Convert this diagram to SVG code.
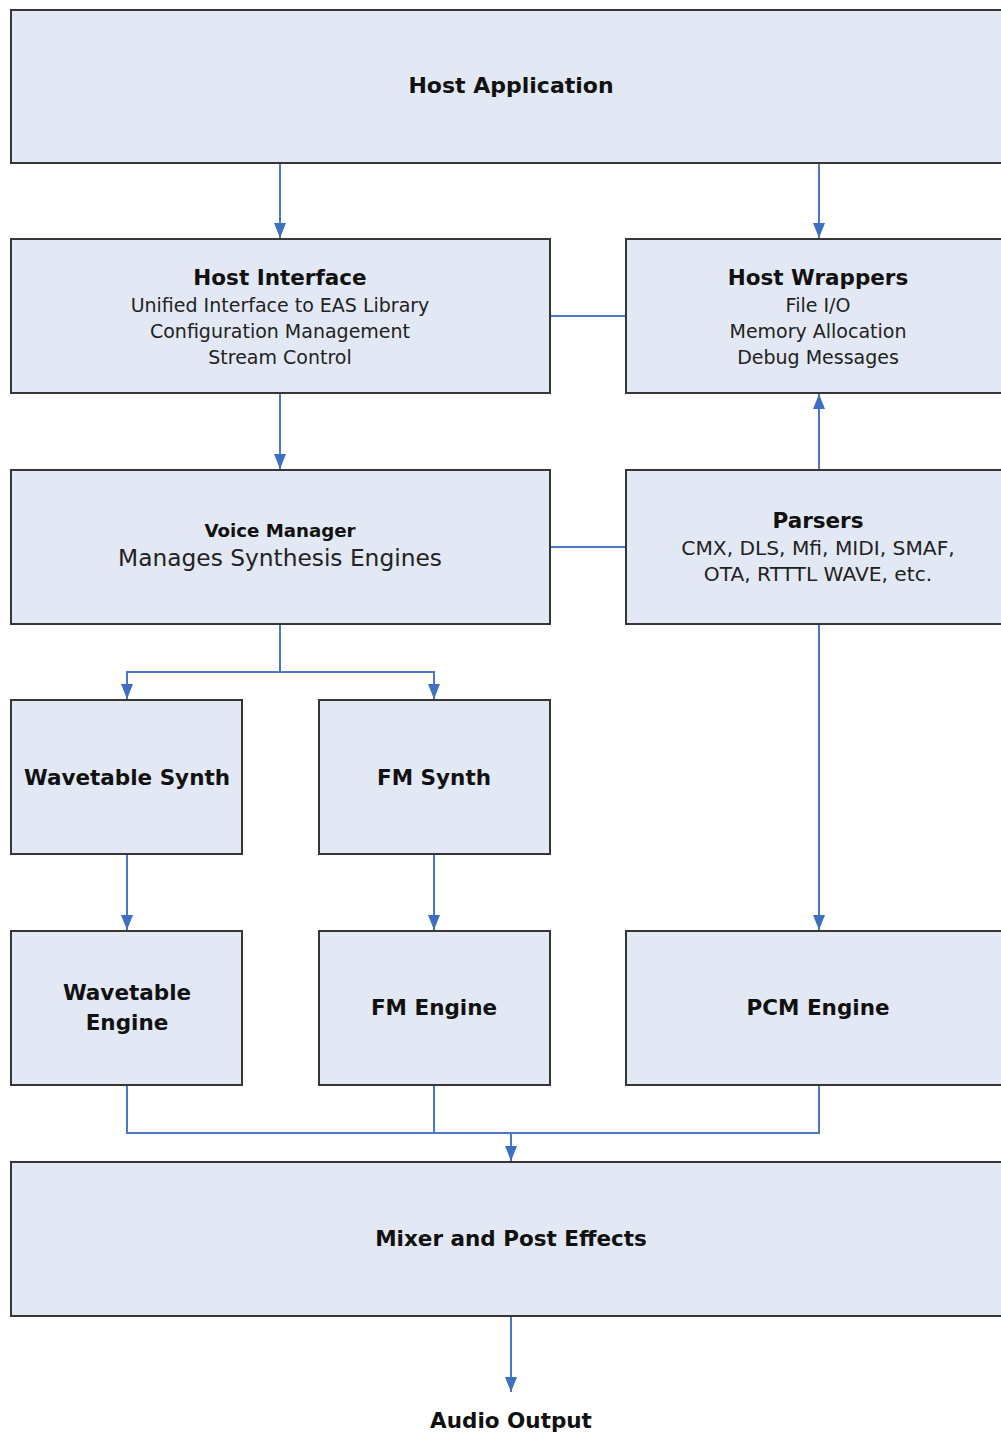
<svg xmlns="http://www.w3.org/2000/svg" width="1001" height="1434" viewBox="0 0 1001 1434">
<style>
.box{fill:#E3E9F4;stroke:#363636;stroke-width:2}
.t{font-family:"DejaVu Sans",Verdana,sans-serif;font-weight:bold;font-size:21.5px;fill:#111;text-anchor:middle}
.s{font-family:"DejaVu Sans",Verdana,sans-serif;font-size:19px;fill:#222;text-anchor:middle}
.c{fill:none;stroke:#4A78C6;stroke-width:2}
</style>
<defs>
<marker id="ah" viewBox="0 0 15 12" refX="15" refY="6" markerWidth="15" markerHeight="12" markerUnits="userSpaceOnUse" orient="auto">
<path d="M0,0 L15,6 L0,12 z" fill="#3F6FC2"/>
</marker>
</defs>
<g id="connectors">
<line class="c" x1="280" y1="163" x2="280" y2="238" marker-end="url(#ah)"/>
<line class="c" x1="819" y1="163" x2="819" y2="238" marker-end="url(#ah)"/>
<line class="c" x1="550" y1="316" x2="626" y2="316"/>
<line class="c" x1="280" y1="393" x2="280" y2="469" marker-end="url(#ah)"/>
<line class="c" x1="819" y1="470" x2="819" y2="394" marker-end="url(#ah)"/>
<line class="c" x1="550" y1="547" x2="626" y2="547"/>
<polyline class="c" points="280,624 280,672 127,672 127,699" marker-end="url(#ah)"/>
<polyline class="c" points="280,672 434,672 434,699" marker-end="url(#ah)"/>
<line class="c" x1="819" y1="624" x2="819" y2="930" marker-end="url(#ah)"/>
<line class="c" x1="127" y1="854" x2="127" y2="930" marker-end="url(#ah)"/>
<line class="c" x1="434" y1="854" x2="434" y2="930" marker-end="url(#ah)"/>
<polyline class="c" points="127,1085 127,1133 819,1133 819,1085"/>
<line class="c" x1="434" y1="1085" x2="434" y2="1133"/>
<line class="c" x1="511" y1="1133" x2="511" y2="1161" marker-end="url(#ah)"/>
<line class="c" x1="511" y1="1316" x2="511" y2="1392" marker-end="url(#ah)"/>
</g>
<g id="host-application">
<rect class="box" x="11" y="10" width="1000" height="153"/>
<text class="t" x="511" y="93" style="font-size:22px">Host Application</text>
</g>
<g id="host-interface">
<rect class="box" x="11" y="239" width="539" height="154"/>
<text class="t" x="280" y="285">Host Interface</text>
<text class="s" x="280" y="312">Unified Interface to EAS Library</text>
<text class="s" x="280" y="338">Configuration Management</text>
<text class="s" x="280" y="364">Stream Control</text>
</g>
<g id="host-wrappers">
<rect class="box" x="626" y="239" width="385" height="154"/>
<text class="t" x="818" y="285">Host Wrappers</text>
<text class="s" x="818" y="312">File I/O</text>
<text class="s" x="818" y="338">Memory Allocation</text>
<text class="s" x="818" y="364">Debug Messages</text>
</g>
<g id="voice-manager">
<rect class="box" x="11" y="470" width="539" height="154"/>
<text class="t" x="280" y="537" style="font-size:18.2px">Voice Manager</text>
<text class="s" x="280" y="566" style="font-size:23.3px">Manages Synthesis Engines</text>
</g>
<g id="parsers">
<rect class="box" x="626" y="470" width="385" height="154"/>
<text class="t" x="818" y="528">Parsers</text>
<text class="s" x="818" y="555" style="font-size:20.2px">CMX, DLS, Mfi, MIDI, SMAF,</text>
<text class="s" x="818" y="581" style="font-size:20.2px">OTA, RTTTL WAVE, etc.</text>
</g>
<g id="wavetable-synth">
<rect class="box" x="11" y="700" width="231" height="154"/>
<text class="t" x="127" y="785">Wavetable Synth</text>
</g>
<g id="fm-synth">
<rect class="box" x="319" y="700" width="231" height="154"/>
<text class="t" x="434" y="785">FM Synth</text>
</g>
<g id="wavetable-engine">
<rect class="box" x="11" y="931" width="231" height="154"/>
<text class="t" x="127" y="1000">Wavetable</text>
<text class="t" x="127" y="1030">Engine</text>
</g>
<g id="fm-engine">
<rect class="box" x="319" y="931" width="231" height="154"/>
<text class="t" x="434" y="1015">FM Engine</text>
</g>
<g id="pcm-engine">
<rect class="box" x="626" y="931" width="385" height="154"/>
<text class="t" x="818" y="1015">PCM Engine</text>
</g>
<g id="mixer">
<rect class="box" x="11" y="1162" width="1000" height="154"/>
<text class="t" x="511" y="1246">Mixer and Post Effects</text>
</g>
<g id="audio-output">
<text class="t" x="511" y="1428">Audio Output</text>
</g>
</svg>
